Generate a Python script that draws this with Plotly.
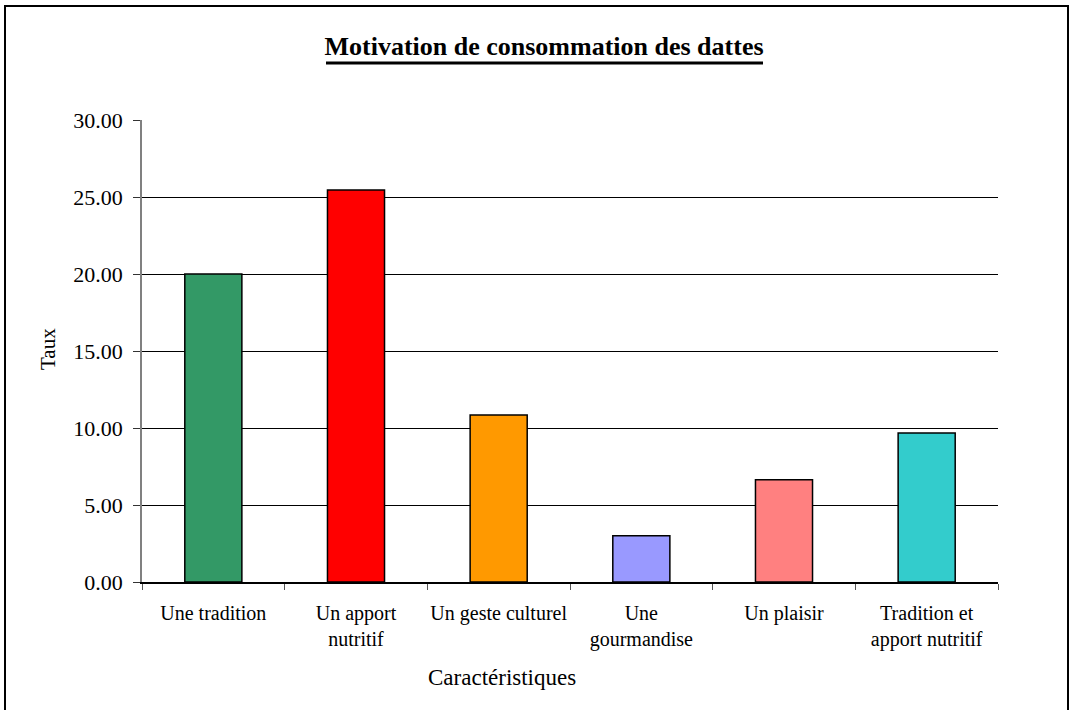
import plotly.graph_objects as go

categories = [
    "Une tradition",
    "Un apport<br>nutritif",
    "Un geste culturel",
    "Une<br>gourmandise",
    "Un plaisir",
    "Tradition et<br>apport nutritif",
]
taux = [20.00, 25.45, 10.85, 3.00, 6.64, 9.68]
bar_colors = ["#339966", "#FF0000", "#FF9900", "#9999FF", "#FF8080", "#33CCCC"]
y_ticks = [0, 5, 10, 15, 20, 25, 30]

W, H = 1073, 710
L, R, T, B = 142, 75, 120, 128
pw, ph = W - L - R, H - T - B

def px_x(x):
    return (x - L) / pw

def px_y(y):
    return (H - B - y) / ph

serif = "Liberation Serif, Times New Roman, serif"

fig = go.Figure(
    go.Bar(
        x=categories,
        y=taux,
        marker=dict(color=bar_colors, line=dict(color="black", width=1.5)),
        width=0.4,
        hoverinfo="x+y",
    )
)

fig.update_layout(
    width=W,
    height=H,
    margin=dict(l=L, r=R, t=T, b=B, autoexpand=False),
    paper_bgcolor="white",
    plot_bgcolor="white",
    showlegend=False,
    font=dict(family=serif, color="black"),
    title=dict(
        text="<b>Motivation de consommation des dattes</b>",
        font=dict(family=serif, size=26, color="black"),
        x=544 / W,
        xanchor="center",
        y=1 - 46 / H,
        yanchor="middle",
    ),
    xaxis=dict(
        type="category",
        automargin=False,
        showgrid=False,
        showline=True,
        linecolor="black",
        linewidth=1.5,
        ticks="outside",
        tickson="boundaries",
        ticklen=6,
        tickcolor="#555555",
        tickangle=0,
        ticklabelstandoff=12,
        tickfont=dict(family=serif, size=20, color="black"),
    ),
    yaxis=dict(
        range=[0, 30],
        automargin=False,
        tickvals=y_ticks,
        tickformat=".2f",
        showgrid=True,
        gridcolor="black",
        gridwidth=1,
        zeroline=False,
        showline=True,
        linecolor="#808080",
        linewidth=1.5,
        ticks="outside",
        ticklen=7,
        tickcolor="#333333",
        ticklabelstandoff=6,
        tickfont=dict(family=serif, size=22, color="black"),
    ),
    annotations=[
        dict(
            text="Caractéristiques",
            xref="paper",
            yref="paper",
            x=px_x(502),
            y=px_y(677),
            xanchor="center",
            yanchor="middle",
            showarrow=False,
            font=dict(family=serif, size=23, color="black"),
        ),
        dict(
            text="Taux",
            xref="paper",
            yref="paper",
            x=px_x(48),
            y=px_y(349),
            xanchor="center",
            yanchor="middle",
            textangle=-90,
            showarrow=False,
            font=dict(family=serif, size=21, color="black"),
        ),
    ],
    shapes=[
        # outer chart frame
        dict(
            type="rect",
            xref="paper",
            yref="paper",
            x0=px_x(5),
            x1=px_x(1068),
            y0=px_y(716),
            y1=px_y(6),
            line=dict(color="black", width=2),
            fillcolor="rgba(0,0,0,0)",
            layer="above",
        ),
        # heavy underline under the title
        dict(
            type="line",
            xref="paper",
            yref="paper",
            x0=px_x(326),
            x1=px_x(763),
            y0=px_y(63),
            y1=px_y(63),
            line=dict(color="black", width=3),
            layer="above",
        ),
    ],
)

fig.write_html("out.html")
